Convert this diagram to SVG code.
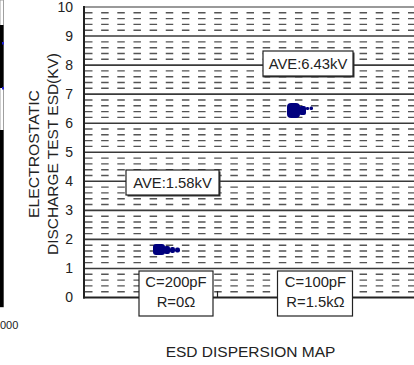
<svg xmlns="http://www.w3.org/2000/svg" width="414" height="365" viewBox="0 0 414 365">
<style>
text{font-family:"Liberation Sans",Arial,sans-serif;fill:#222}
.num{font-size:14px;text-anchor:end}
.lbl{font-size:14.8px;text-anchor:middle}
.ttl{font-size:15.5px;text-anchor:middle}
.minor{stroke:#555;stroke-width:1.4;stroke-dasharray:7.5 8.65}
.major{stroke:#3a3a3a;stroke-width:1.6}
.box{fill:#fff;stroke:#222;stroke-width:1.2}
.shadow{fill:#333}
.dot{fill:#00007e}
</style>
<rect width="414" height="365" fill="#fff"/>
<g id="left-fragment">
<rect x="0" y="0" width="3.5" height="307" fill="none" stroke="#888" stroke-width="0.8"/>
<rect x="0" y="25" width="3.5" height="63" fill="#000"/>
<rect x="0" y="130" width="3.5" height="177" fill="#000"/>
<rect x="2" y="42" width="2" height="2.5" fill="#2020d0"/>
<rect x="2" y="87" width="2" height="2.5" fill="#2020d0"/>
<text x="0" y="329" style="font-size:11px">000</text>
</g>
<g id="minor-grid">
<line class="minor" x1="85" x2="414" y1="12.8" y2="12.8"/>
<line class="minor" x1="85" x2="414" y1="18.6" y2="18.6"/>
<line class="minor" x1="85" x2="414" y1="24.4" y2="24.4"/>
<line class="minor" x1="85" x2="414" y1="30.2" y2="30.2"/>
<line class="minor" x1="85" x2="414" y1="41.9" y2="41.9"/>
<line class="minor" x1="85" x2="414" y1="47.7" y2="47.7"/>
<line class="minor" x1="85" x2="414" y1="53.5" y2="53.5"/>
<line class="minor" x1="85" x2="414" y1="59.3" y2="59.3"/>
<line class="minor" x1="85" x2="414" y1="70.9" y2="70.9"/>
<line class="minor" x1="85" x2="414" y1="76.7" y2="76.7"/>
<line class="minor" x1="85" x2="414" y1="82.5" y2="82.5"/>
<line class="minor" x1="85" x2="414" y1="88.3" y2="88.3"/>
<line class="minor" x1="85" x2="414" y1="100" y2="100"/>
<line class="minor" x1="85" x2="414" y1="105.8" y2="105.8"/>
<line class="minor" x1="85" x2="414" y1="111.6" y2="111.6"/>
<line class="minor" x1="85" x2="414" y1="117.4" y2="117.4"/>
<line class="minor" x1="85" x2="414" y1="129" y2="129"/>
<line class="minor" x1="85" x2="414" y1="134.8" y2="134.8"/>
<line class="minor" x1="85" x2="414" y1="140.6" y2="140.6"/>
<line class="minor" x1="85" x2="414" y1="146.4" y2="146.4"/>
<line class="minor" x1="85" x2="414" y1="158.1" y2="158.1"/>
<line class="minor" x1="85" x2="414" y1="163.9" y2="163.9"/>
<line class="minor" x1="85" x2="414" y1="169.7" y2="169.7"/>
<line class="minor" x1="85" x2="414" y1="175.5" y2="175.5"/>
<line class="minor" x1="85" x2="414" y1="187.1" y2="187.1"/>
<line class="minor" x1="85" x2="414" y1="192.9" y2="192.9"/>
<line class="minor" x1="85" x2="414" y1="198.7" y2="198.7"/>
<line class="minor" x1="85" x2="414" y1="204.5" y2="204.5"/>
<line class="minor" x1="85" x2="414" y1="216.2" y2="216.2"/>
<line class="minor" x1="85" x2="414" y1="222" y2="222"/>
<line class="minor" x1="85" x2="414" y1="227.8" y2="227.8"/>
<line class="minor" x1="85" x2="414" y1="233.6" y2="233.6"/>
<line class="minor" x1="85" x2="414" y1="245.2" y2="245.2"/>
<line class="minor" x1="85" x2="414" y1="251" y2="251"/>
<line class="minor" x1="85" x2="414" y1="256.8" y2="256.8"/>
<line class="minor" x1="85" x2="414" y1="262.6" y2="262.6"/>
<line class="minor" x1="85" x2="414" y1="274.3" y2="274.3"/>
<line class="minor" x1="85" x2="414" y1="280.1" y2="280.1"/>
<line class="minor" x1="85" x2="414" y1="285.9" y2="285.9"/>
<line class="minor" x1="85" x2="414" y1="291.7" y2="291.7"/>
</g>
<g id="major-grid">
<line class="major" x1="84" x2="414" y1="36.05" y2="36.05"/>
<line class="major" x1="84" x2="414" y1="65.1" y2="65.1"/>
<line class="major" x1="84" x2="414" y1="94.15" y2="94.15"/>
<line class="major" x1="84" x2="414" y1="123.2" y2="123.2"/>
<line class="major" x1="84" x2="414" y1="152.25" y2="152.25"/>
<line class="major" x1="84" x2="414" y1="181.3" y2="181.3"/>
<line class="major" x1="84" x2="414" y1="210.35" y2="210.35"/>
<line class="major" x1="84" x2="414" y1="239.4" y2="239.4"/>
<line class="major" x1="84" x2="414" y1="268.45" y2="268.45"/>
<line x1="84" x2="414" y1="7" y2="7" stroke="#999" stroke-width="2"/>
</g>
<g id="axes">
<line x1="84" x2="84" y1="6" y2="298.5" stroke="#222" stroke-width="2"/>
<line x1="83" x2="414" y1="297.5" y2="297.5" stroke="#222" stroke-width="2"/>
<line x1="217.5" x2="217.5" y1="291" y2="297.5" stroke="#222" stroke-width="1.2"/>
</g>
<g id="y-ticks">
<text class="num" x="73" y="12">10</text>
<text class="num" x="73" y="41">9</text>
<text class="num" x="73" y="70">8</text>
<text class="num" x="73" y="99">7</text>
<text class="num" x="73" y="128">6</text>
<text class="num" x="73" y="157">5</text>
<text class="num" x="73" y="186">4</text>
<text class="num" x="73" y="215">3</text>
<text class="num" x="73" y="244">2</text>
<text class="num" x="73" y="273">1</text>
<text class="num" x="73" y="302">0</text>
</g>
<g id="y-title">
<text class="ttl" transform="translate(38.5,154) rotate(-90)" textLength="128" lengthAdjust="spacingAndGlyphs">ELECTROSTATIC</text>
<text class="ttl" transform="translate(58,154) rotate(-90)" textLength="202" lengthAdjust="spacingAndGlyphs">DISCHARGE TEST ESD(KV)</text>
</g>
<g id="data-200pF">
<rect class="dot" x="153" y="244" width="12" height="11" rx="3"/>
<rect class="dot" x="164" y="246" width="6" height="8" rx="2"/>
<rect class="dot" x="170" y="247" width="5" height="6" rx="2"/>
<rect class="dot" x="175" y="247.5" width="5" height="5" rx="2"/>
</g>
<g id="data-100pF">
<rect class="dot" x="287" y="103" width="13" height="15" rx="4"/>
<rect class="dot" x="299" y="106" width="7" height="9" rx="2"/>
<rect class="dot" x="306" y="107" width="3" height="3" rx="1"/>
<rect class="dot" x="309.5" y="106.5" width="3.5" height="3.5" rx="1.5"/>
</g>
<g id="ave-6-43">
<rect class="shadow" x="264.5" y="52.5" width="90" height="25"/>
<rect class="box" x="263" y="51" width="90" height="25"/>
<text class="lbl" x="308" y="68.5">AVE:6.43kV</text>
</g>
<g id="ave-1-58">
<rect class="shadow" x="127.5" y="171.5" width="93" height="25"/>
<rect class="box" x="126" y="170" width="93" height="25"/>
<text class="lbl" x="172.5" y="188.3">AVE:1.58kV</text>
</g>
<g id="cat-200pF">
<rect class="box" x="139" y="271" width="74" height="45"/>
<text class="lbl" x="176" y="287">C=200pF</text>
<text class="lbl" x="176" y="307">R=0Ω</text>
</g>
<g id="cat-100pF">
<rect class="box" x="277.5" y="271" width="75" height="45"/>
<text class="lbl" x="315.5" y="287">C=100pF</text>
<text class="lbl" x="315.5" y="307">R=1.5kΩ</text>
</g>
<g id="title">
<text class="ttl" x="250.5" y="357">ESD DISPERSION MAP</text>
</g>
</svg>
